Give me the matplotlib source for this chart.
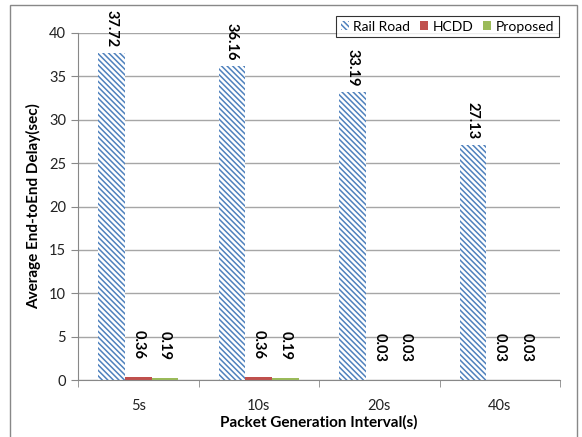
import numpy as np
import matplotlib.pyplot as plt
from matplotlib.patches import Rectangle

plt.rcParams['font.family'] = ['Lato', 'DejaVu Sans']
plt.rcParams['hatch.linewidth'] = 1.1

fig_name = "out.png"

# delay per packet generation interval (sec)
intervals = ['5s', '10s', '20s', '40s']
rail_road = [37.72, 36.16, 33.19, 27.13]
hcdd      = [0.36, 0.36, 0.03, 0.03]
proposed  = [0.19, 0.19, 0.03, 0.03]

fig = plt.figure(figsize=(5.82, 4.37), dpi=100)
ax = fig.add_axes([78/582, 57/437, 482/582, 347/437])

x = np.arange(len(intervals))
w = 1/4.5

b1 = ax.bar(x - w, rail_road, w, facecolor='white', edgecolor='#4F81BD',
            hatch='\\\\\\\\\\\\', lw=0, label='Rail Road')
b2 = ax.bar(x, hcdd, w, color='#C0504D', label='HCDD')
b3 = ax.bar(x + w, proposed, w, color='#9BBB59', label='Proposed')

# value labels, rotated, reading downward
for bars, vals, off in ((b1, rail_road, 4), (b2, hcdd, 13), (b3, proposed, 13)):
    for r, v in zip(bars, vals):
        ax.annotate('%.2f' % v, (r.get_x() + r.get_width()/2, v),
                    xytext=(0, off), textcoords='offset points',
                    rotation=270, ha='center', va='bottom',
                    fontsize=10.5, fontweight='bold', annotation_clip=False)

ax.set_xlim(-0.5, len(intervals) - 0.5)
ax.set_ylim(0, 40)
ax.set_yticks(np.arange(0, 41, 5))
ax.set_xticks(x)
ax.set_xticklabels(intervals)
ax.set_xticks(np.arange(-0.5, len(intervals)), minor=True)
ax.tick_params(axis='x', which='major', length=0, pad=14, labelsize=10.5, labelcolor='#222222')
ax.tick_params(axis='x', which='minor', length=5, color='#888888')
ax.tick_params(axis='y', length=5, color='#888888', labelsize=10.5, labelcolor='#222222')

ax.grid(True, axis='y', color='#A6A6A6', lw=1)
ax.set_axisbelow(True)
for s in ('top', 'right'):
    ax.spines[s].set_visible(False)
for s in ('left', 'bottom'):
    ax.spines[s].set_color('#888888')

ax.set_xlabel('Packet Generation Interval(s)', fontsize=11, fontweight='bold', labelpad=1)
ax.set_ylabel('Average End-toEnd Delay(sec)', fontsize=11, fontweight='bold', labelpad=6)

leg = ax.legend(ncol=3, loc='upper right', bbox_to_anchor=(1.012, 1.07),
                fontsize=10, frameon=True, fancybox=False, handlelength=0.6,
                handleheight=0.6, handletextpad=0.3, columnspacing=0.7, borderpad=0.35)
leg.get_frame().set_edgecolor('#000000')
leg.get_frame().set_linewidth(0.8)

# outer chart frame
fig.add_artist(Rectangle((10/582, -0.1), 567/582, 1.1 - 5/437, transform=fig.transFigure,
                         fill=False, edgecolor='#888888', lw=1, zorder=-1))

plt.savefig(fig_name, dpi=100, facecolor='w')
